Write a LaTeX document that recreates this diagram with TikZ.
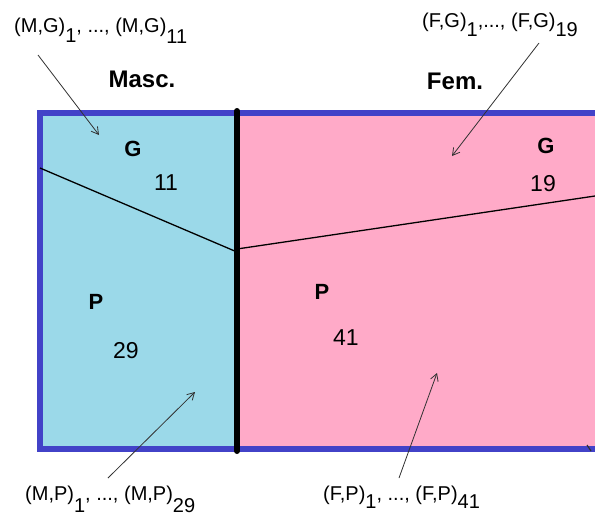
\documentclass[tikz,border=0pt]{standalone}
\usepackage{fontspec}
\setmainfont{Liberation Sans}
\usetikzlibrary{arrows.meta}
\definecolor{bordblue}{RGB}{66,66,200}
\definecolor{mascfill}{RGB}{155,217,233}
\definecolor{femfill}{RGB}{255,170,200}
\definecolor{arrgray}{RGB}{50,50,50}
\newcommand\lowsub[2]{\raisebox{-#1pt}{#2}}
\begin{document}
\begin{tikzpicture}[x=1pt,y=-1pt,
 lbl/.style={inner sep=0pt, anchor=base west, font=\fontsize{20}{24}\selectfont},
 head/.style={inner sep=0pt, font=\fontsize{24}{28}\selectfont\bfseries},
 cat/.style={inner sep=0pt, font=\fontsize{22}{26}\selectfont\bfseries},
 num/.style={inner sep=0pt, font=\fontsize{23}{27}\selectfont},
 ptr/.style={draw=arrgray, line width=0.8pt, -{Straight Barb[length=7pt,width=8pt]}},
 split/.style={draw=black, line width=1.3pt}]
\useasboundingbox (0,0) rectangle (595,517);
\fill[white] (0,0) rectangle (595,517);
\begin{scope}
\clip (0,0) rectangle (595,517);
\fill[mascfill] (40,113) rectangle (237,449);
\fill[femfill] (237,113) rectangle (640,449);
\draw[bordblue, line width=6.5pt] (640,113) -- (40,113) -- (40,449) -- (640,449);
\end{scope}
% split lines
\coordinate (ml) at (40,168);
\coordinate (mr) at (237,252);
\coordinate (fl) at (237,249);
\coordinate (fr) at (595,196);
\draw[split] (ml) -- (mr);
\draw[split] (fl) -- (fr);
% divider
\coordinate (dtop) at (237,111);
\coordinate (dbot) at (237,451);
\draw[line width=6pt, line cap=round] (dtop) -- (dbot);
% headings and cell texts
\node[head] (masc) at (142,79) {Masc.};
\node[head] (fem) at (455,81) {Fem.};
\node[cat] (mg) at (133,149) {G};
\node[num] (mgn) at (166,183) {11};
\node[cat] (mp) at (96,302) {P};
\node[num] (mpn) at (126,351) {29};
\node[cat] (fg) at (546,146) {G};
\node[num] (fgn) at (543,184) {19};
\node[cat] (fp) at (322,292) {P};
\node[num] (fpn) at (346,338) {41};
% labels
\node[lbl] (lmg) at (14,32) {(M,G)\lowsub{10}{1}, ..., (M,G)\lowsub{11}{11}};
\node[lbl] (lfg) at (422,27) {(F,G)\lowsub{9}{1},..., (F,G)\lowsub{9}{19}};
\node[lbl] (lmp) at (25,500) {(M,P)\lowsub{12}{1}, ..., (M,P)\lowsub{12}{29}};
\node[lbl] (lfp) at (323,500) {(F,P)\lowsub{8}{1}, ..., (F,P)\lowsub{8}{41}};
% arrows
\coordinate (amg0) at (38,55);  \coordinate (amg1) at (99,135);
\coordinate (afg0) at (539,43); \coordinate (afg1) at (452,156);
\coordinate (amp0) at (108,478); \coordinate (amp1) at (195,392);
\coordinate (afp0) at (399,478); \coordinate (afp1) at (437,373);
\draw[ptr] (amg0) -- (amg1);
\draw[ptr] (afg0) -- (afg1);
\draw[ptr] (amp0) -- (amp1);
\draw[ptr] (afp0) -- (afp1);
% small mark at bottom right
\coordinate (tk0) at (587,445); \coordinate (tk1) at (591,451);
\draw[arrgray, line width=1.2pt] (tk0) -- (tk1);
\end{tikzpicture}
\end{document}
